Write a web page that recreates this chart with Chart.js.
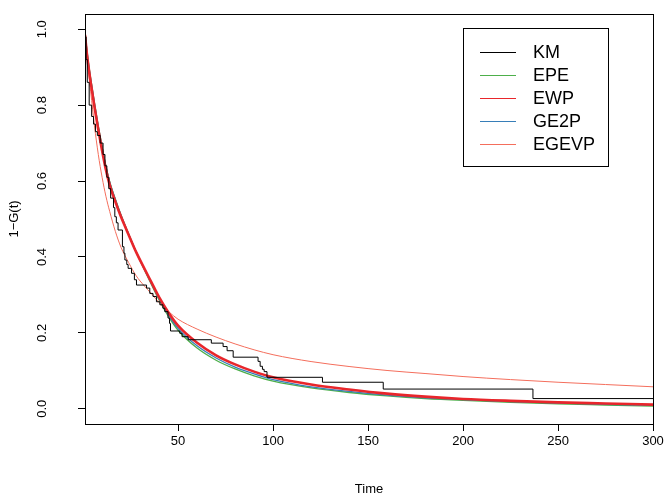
<!DOCTYPE html>
<html>
<head>
<meta charset="utf-8">
<script src="https://cdn.jsdelivr.net/npm/chart.js@4/dist/chart.umd.min.js"></script>
<style>
  html, body { margin: 0; padding: 0; background: #fff; }
  canvas { display: block; }
</style>
</head>
<body>
<canvas id="survChart" width="665" height="497"></canvas>
<script>
// Kaplan-Meier steps (time, survival after the drop)
const kmTimes = [1, 1.6, 2.2, 3.2, 4.5, 5.5, 6.5, 7.5, 9, 10.5, 11.5, 12.5, 13.5, 14.5, 16, 16.7, 17.5, 18.4, 20.7, 21.5, 22, 23, 23.7, 25.5, 27, 28.1, 33.4, 35.1, 36.8, 38.6, 40.4, 42, 43, 44.7, 45.5, 46, 50.9, 52.1, 55.3, 67.5, 73.7, 75.8, 79, 92.1, 93.2, 94.4, 95.3, 96.8, 126, 158, 236.8, 300];
const kmValues = [0.98, 0.92, 0.86, 0.80, 0.77, 0.75, 0.73, 0.72, 0.70, 0.67, 0.64, 0.61, 0.58, 0.555, 0.53, 0.506, 0.49, 0.471, 0.427, 0.41, 0.392, 0.38, 0.37, 0.357, 0.34, 0.326, 0.318, 0.304, 0.296, 0.282, 0.274, 0.265, 0.256, 0.239, 0.225, 0.205, 0.199, 0.19, 0.182, 0.173, 0.164, 0.153, 0.136, 0.125, 0.112, 0.104, 0.098, 0.083, 0.07, 0.052, 0.027, 0.027];

// fitted curves, read at these times
const curveTimes = [1, 2, 3, 4, 6, 8, 10, 12, 14, 17, 20, 24, 28, 32, 36, 40, 45, 50, 60, 70, 80, 90, 100, 120, 140, 160, 180, 200, 225, 250, 275, 300];
const epeValues = [0.99, 0.945, 0.905, 0.87, 0.805, 0.745, 0.69, 0.64, 0.598, 0.552, 0.51, 0.46, 0.412, 0.369, 0.327, 0.287, 0.243, 0.207, 0.16, 0.128, 0.105, 0.087, 0.073, 0.055, 0.043, 0.034, 0.027, 0.022, 0.017, 0.013, 0.01, 0.007];
const ewpValues = [0.985, 0.935, 0.895, 0.86, 0.795, 0.735, 0.68, 0.63, 0.59, 0.545, 0.505, 0.458, 0.412, 0.372, 0.333, 0.294, 0.253, 0.219, 0.174, 0.141, 0.117, 0.098, 0.083, 0.064, 0.051, 0.040, 0.032, 0.026, 0.021, 0.017, 0.014, 0.011];
const ge2pValues = [0.99, 0.943, 0.903, 0.868, 0.803, 0.743, 0.688, 0.638, 0.597, 0.551, 0.509, 0.46, 0.413, 0.371, 0.33, 0.29, 0.247, 0.212, 0.166, 0.134, 0.11, 0.092, 0.077, 0.058, 0.046, 0.036, 0.029, 0.024, 0.019, 0.015, 0.012, 0.009];
const egevpValues = [0.985, 0.935, 0.88, 0.835, 0.745, 0.67, 0.61, 0.56, 0.52, 0.467, 0.425, 0.385, 0.35, 0.325, 0.303, 0.28, 0.256, 0.236, 0.21, 0.189, 0.171, 0.1555, 0.1425, 0.1245, 0.1115, 0.101, 0.093, 0.085, 0.077, 0.07, 0.064, 0.058];

const seriesNames = ['KM', 'EPE', 'EWP', 'GE2P', 'EGEVP'];
const seriesColors = ['#000000', '#4DAF4A', '#E8262B', '#377EB8', '#F46E5C'];
const xTicks = [50, 100, 150, 200, 250, 300];
const yTicks = [0, 0.2, 0.4, 0.6, 0.8, 1.0];

const FONT = '"Liberation Sans", Arial, Helvetica, sans-serif';

function pts(xs, ys) {
    return xs.map((x, i) => ({ x: x, y: ys[i] }));
}

function curve(label, values, color, width, order) {
    return {
        label: label,
        data: pts(curveTimes, values),
        borderColor: color,
        borderWidth: width,
        pointRadius: 0,
        fill: false,
        cubicInterpolationMode: 'monotone',
        order: order
    };
}

// R style frame, tick labels, titles and legend
const rDecor = {
    id: 'rDecor',
    afterDraw(chart) {
        const ctx = chart.ctx;
        const a = chart.chartArea;
        const xs = chart.scales.x;
        const ys = chart.scales.y;
        ctx.save();
        ctx.strokeStyle = '#000';
        ctx.lineWidth = 1;
        ctx.strokeRect(Math.round(a.left) + 0.5, Math.round(a.top) + 0.5,
            Math.round(a.right - a.left), Math.round(a.bottom - a.top));

        ctx.fillStyle = '#000';
        ctx.font = '13px ' + FONT;
        ctx.textAlign = 'center';
        ctx.textBaseline = 'middle';
        xTicks.forEach(v => ctx.fillText(String(v), xs.getPixelForValue(v), 441));
        yTicks.forEach(v => {
            ctx.save();
            ctx.translate(42, ys.getPixelForValue(v));
            ctx.rotate(-Math.PI / 2);
            ctx.fillText(v.toFixed(1), 0, 0);
            ctx.restore();
        });
        ctx.fillText('Time', (a.left + a.right) / 2, 489);
        ctx.save();
        ctx.translate(14, (a.top + a.bottom) / 2);
        ctx.rotate(-Math.PI / 2);
        ctx.fillText('1\u2212G(t)', 0, 0);
        ctx.restore();

        // legend
        ctx.fillStyle = '#fff';
        ctx.fillRect(463.5, 28.5, 145, 138);
        ctx.strokeStyle = '#000';
        ctx.strokeRect(463.5, 28.5, 145, 138);
        ctx.font = '18px ' + FONT;
        ctx.textAlign = 'left';
        seriesNames.forEach((name, i) => {
            const y = 52.5 + i * 23;
            ctx.strokeStyle = seriesColors[i];
            ctx.lineWidth = 1;
            ctx.beginPath();
            ctx.moveTo(480, y);
            ctx.lineTo(516, y);
            ctx.stroke();
            ctx.fillStyle = '#000';
            ctx.fillText(name, 533, y + 1);
        });
        ctx.restore();
    }
};

const ctx = document.getElementById('survChart').getContext('2d');
const survChart = new Chart(ctx, {
    type: 'line',
    data: {
        datasets: [
            {
                label: seriesNames[0],
                data: pts(kmTimes, kmValues),
                borderColor: seriesColors[0],
                borderWidth: 1,
                pointRadius: 0,
                fill: false,
                stepped: 'before',
                order: 0
            },
            curve(seriesNames[1], epeValues, seriesColors[1], 1.3, 4),
            curve(seriesNames[2], ewpValues, seriesColors[2], 2.6, 1),
            curve(seriesNames[3], ge2pValues, seriesColors[3], 1.3, 3),
            curve(seriesNames[4], egevpValues, seriesColors[4], 1, 2)
        ]
    },
    options: {
        responsive: false,
        animation: false,
        layout: { padding: { left: 0, right: 12, top: 14, bottom: 0 } },
        scales: {
            x: {
                type: 'linear',
                min: 1,
                max: 300,
                afterBuildTicks: s => { s.ticks = xTicks.map(v => ({ value: v })); },
                afterFit: s => { s.height = 73; },
                ticks: { display: false },
                grid: { drawOnChartArea: false, drawTicks: true, tickLength: 7, color: '#000' },
                border: { display: false }
            },
            y: {
                type: 'linear',
                min: -0.04,
                max: 1.04,
                afterBuildTicks: s => { s.ticks = yTicks.map(v => ({ value: v })); },
                afterFit: s => { s.width = 85; },
                ticks: { display: false },
                grid: { drawOnChartArea: false, drawTicks: true, tickLength: 7, color: '#000' },
                border: { display: false }
            }
        },
        plugins: {
            legend: { display: false },
            tooltip: { enabled: false }
        }
    },
    plugins: [rDecor]
});
</script>
</body>
</html>
